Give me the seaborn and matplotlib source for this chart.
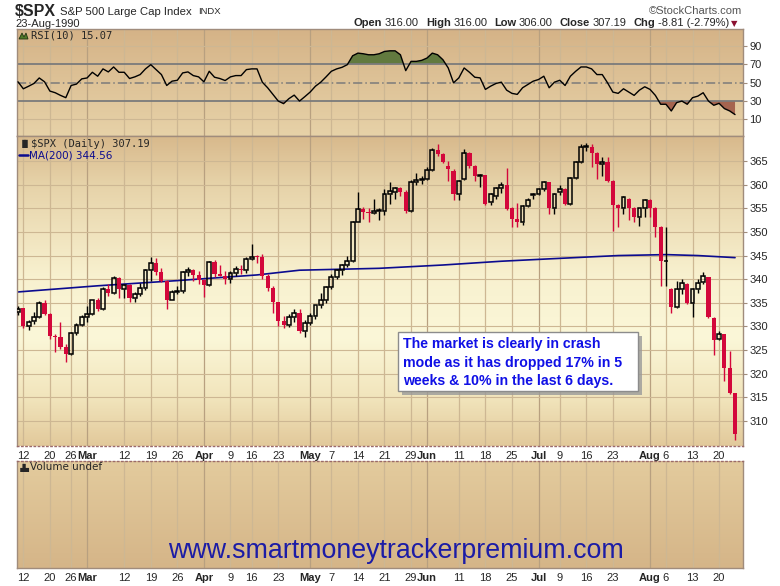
import numpy as np
import pandas as pd
import matplotlib
matplotlib.use("Agg")
import matplotlib.pyplot as plt
from matplotlib.patches import Rectangle, Polygon
from matplotlib.colors import LinearSegmentedColormap
import seaborn as sns

sns.set_style("white")
plt.rcParams['font.family'] = ['Liberation Sans', 'DejaVu Sans']

# one entry per trading day, 9-Feb-1990 .. 23-Aug-1990
opens = [333.0, 333.8, 330.1, 331.1, 332.0, 334.9, 332.7, 328.0, 327.7, 325.7,
         324.2, 328.7, 330.3, 331.9, 332.7, 335.5, 333.7, 337.9, 337.0, 340.3,
         338.0, 338.7, 336.0, 336.9, 338.1, 341.9, 343.5, 341.6, 339.7, 335.7,
         337.2, 337.6, 341.5, 342.0, 340.8, 339.9, 338.7, 343.6, 341.1, 340.7,
         340.1, 341.4, 342.1, 341.9, 344.3, 344.9, 344.7, 340.7, 338.1, 335.1,
         331.1, 330.4, 332.0, 332.9, 329.1, 330.8, 332.3, 334.5, 335.6, 338.4,
         340.5, 342.0, 342.9, 343.8, 352.0, 354.8, 354.3, 354.0, 354.5, 354.4,
         358.0, 358.4, 359.3, 358.4, 354.5, 360.6, 360.9, 361.2, 363.1, 367.3,
         366.5, 364.0, 362.9, 358.0, 361.3, 366.7, 363.9, 361.9, 362.0, 356.4,
         357.7, 359.2, 360.0, 355.0, 352.8, 352.1, 355.5, 357.9, 358.0, 359.0,
         360.5, 355.0, 358.4, 359.0, 356.0, 361.5, 364.9, 367.9, 367.9, 366.8,
         364.4, 364.9, 360.8, 355.7, 355.0, 357.0, 355.0, 353.1, 355.0, 356.8,
         355.0, 351.0, 343.8, 338.0, 334.2, 338.0, 339.0, 335.0, 338.0, 339.3,
         340.4, 331.8, 327.4, 328.3, 321.3, 316.0]
highs = [334.3, 334.0, 331.4, 333.0, 335.3, 335.7, 332.9, 328.3, 330.9, 326.2,
         328.9, 330.8, 332.5, 334.4, 335.6, 336.0, 338.3, 338.9, 340.6, 340.4,
         338.9, 339.0, 337.3, 339.1, 342.1, 344.7, 344.5, 342.3, 339.8, 337.8,
         338.5, 341.7, 342.6, 342.1, 341.8, 340.0, 343.8, 344.1, 342.9, 341.7,
         341.8, 342.8, 343.0, 344.8, 347.4, 345.2, 345.3, 341.2, 338.6, 335.2,
         332.3, 332.7, 333.6, 333.6, 331.3, 332.8, 334.5, 337.0, 338.5, 341.0,
         342.2, 343.3, 344.9, 352.3, 358.4, 355.3, 355.0, 356.9, 355.0, 359.1,
         360.5, 359.5, 359.5, 358.8, 360.9, 362.4, 361.9, 363.8, 367.8, 368.6,
         366.8, 365.0, 363.3, 361.0, 367.5, 367.0, 364.1, 362.3, 362.1, 358.3,
         359.5, 360.5, 363.5, 355.3, 356.2, 355.8, 357.1, 358.3, 359.3, 360.8,
         360.6, 358.3, 359.9, 359.3, 361.6, 365.1, 368.6, 368.9, 368.6, 367.0,
         365.9, 365.9, 361.0, 356.0, 357.5, 357.2, 355.3, 355.1, 357.0, 357.0,
         355.2, 351.2, 351.0, 338.1, 339.6, 340.1, 339.2, 338.1, 340.1, 341.5,
         340.5, 332.0, 329.0, 328.5, 324.7, 316.0]
lows = [332.5, 329.6, 329.3, 330.6, 331.7, 332.4, 327.4, 324.6, 325.3, 322.4,
        323.9, 328.2, 330.0, 331.0, 332.4, 333.2, 333.4, 336.5, 336.8, 336.1,
        336.1, 335.2, 335.2, 336.5, 337.8, 339.7, 340.9, 339.4, 333.6, 335.5,
        336.8, 337.0, 340.6, 339.6, 338.9, 336.3, 338.5, 340.4, 340.6, 338.9,
        339.1, 340.6, 341.1, 341.4, 344.1, 343.4, 340.1, 337.6, 332.8, 330.1,
        329.7, 329.8, 330.9, 328.7, 327.8, 330.2, 331.5, 333.8, 335.0, 338.0,
        340.0, 340.9, 342.5, 343.6, 352.0, 352.7, 352.0, 353.8, 352.5, 353.5,
        356.0, 357.0, 357.6, 354.0, 354.3, 360.0, 360.1, 361.0, 362.9, 366.0,
        364.6, 360.8, 356.8, 356.8, 361.0, 363.5, 360.8, 359.6, 355.8, 355.6,
        357.0, 358.3, 354.6, 351.0, 351.0, 351.5, 355.2, 356.9, 357.8, 358.6,
        353.9, 353.9, 357.8, 355.8, 355.8, 361.2, 364.5, 367.2, 363.7, 361.3,
        361.9, 360.5, 350.2, 351.0, 353.7, 352.5, 352.0, 351.3, 353.1, 353.1,
        349.0, 338.5, 338.5, 332.8, 334.0, 336.9, 334.8, 332.0, 337.1, 339.0,
        331.8, 324.0, 327.2, 318.4, 315.8, 306.0]
closes = [333.6, 330.1, 331.0, 332.0, 334.9, 332.7, 328.0, 327.7, 325.7, 324.2,
          328.7, 330.3, 331.9, 332.7, 335.5, 333.7, 337.9, 337.0, 340.3, 338.0,
          338.7, 336.0, 336.9, 338.1, 341.9, 343.5, 341.6, 339.7, 335.7, 337.2,
          337.6, 341.5, 342.0, 340.8, 339.9, 338.7, 343.6, 341.1, 340.7, 340.1,
          341.4, 342.1, 341.9, 344.3, 344.7, 344.7, 340.7, 338.1, 335.1, 331.1,
          330.4, 332.0, 332.9, 329.1, 330.8, 332.3, 334.5, 335.6, 338.4, 340.5,
          342.0, 342.9, 343.8, 352.0, 354.8, 354.3, 354.0, 354.5, 354.6, 358.0,
          358.6, 359.3, 358.4, 354.5, 360.6, 360.9, 361.2, 363.2, 367.3, 366.5,
          364.9, 363.4, 358.0, 360.8, 366.7, 363.9, 361.9, 362.0, 356.0, 358.0,
          359.2, 359.9, 354.8, 352.8, 352.1, 355.5, 356.8, 358.0, 359.0, 360.5,
          355.0, 358.0, 359.0, 356.0, 361.5, 364.9, 367.9, 368.1, 366.7, 364.4,
          364.9, 360.8, 355.7, 355.0, 357.4, 355.0, 353.1, 355.0, 356.7, 355.0,
          351.0, 343.8, 343.9, 334.2, 338.0, 339.1, 335.0, 338.0, 339.2, 340.6,
          331.9, 327.2, 328.3, 321.3, 316.0, 307.19]

rsi10 = [50.8, 43.2, 46.0, 49.0, 55.0, 50.8, 40.7, 38.9, 36.0, 33.5,
         46.8, 48.3, 54.0, 55.0, 61.2, 56.9, 64.9, 61.6, 67.0, 61.2,
         61.2, 54.4, 56.2, 58.7, 64.9, 69.5, 64.1, 58.7, 46.8, 51.5,
         52.5, 60.5, 61.6, 57.6, 56.2, 50.8, 62.3, 55.8, 54.4, 52.2,
         56.2, 57.6, 57.6, 64.1, 64.9, 64.9, 50.4, 44.3, 37.1, 29.8,
         27.0, 32.4, 36.3, 29.8, 34.6, 39.6, 46.0, 50.4, 56.2, 62.3,
         64.9, 66.6, 69.5, 79.2, 82.1, 81.4, 80.3, 80.3, 81.4, 83.9,
         84.6, 84.6, 80.3, 63.0, 73.1, 73.1, 74.2, 76.7, 82.1, 80.3,
         74.9, 65.9, 49.7, 55.1, 65.9, 61.2, 55.8, 55.1, 42.5, 46.1,
         49.0, 50.4, 41.7, 38.2, 37.1, 44.3, 47.9, 51.5, 53.3, 56.9,
         44.3, 50.4, 52.5, 46.8, 56.9, 62.3, 67.0, 67.0, 64.9, 58.7,
         58.7, 49.7, 39.6, 38.2, 43.2, 39.6, 36.0, 41.7, 45.4, 42.5,
         36.0, 26.3, 26.3, 19.0, 28.1, 29.8, 26.3, 33.5, 35.2, 38.9,
         29.8, 25.2, 27.3, 21.6, 19.0, 15.07]

# 200-day moving average, read at a few days
ma_idx = [0, 15, 30, 45, 53, 68, 80, 91, 100, 113, 122, 128, 135]
ma200 = [337.3, 338.6, 339.7, 340.9, 341.9, 342.3, 343.0, 343.8, 344.3, 345.0, 345.2, 345.0, 344.56]

tick_idx = [1, 6, 10, 13, 20, 25, 30, 35, 40, 44, 49, 55, 59, 64, 69, 74,
            77, 83, 88, 93, 98, 102, 107, 112, 119, 122, 127, 132]
tick_lbl = ['12', '20', '26', 'Mar', '12', '19', '26', 'Apr', '9', '16', '23', 'May',
            '7', '14', '21', '29', 'Jun', '11', '18', '25', 'Jul', '9', '16', '23',
            'Aug', '6', '13', '20']
months = ['Mar', 'Apr', 'May', 'Jun', 'Jul', 'Aug']

df = pd.DataFrame({'o': opens, 'h': highs, 'l': lows, 'c': closes, 'rsi': rsi10})
df['x'] = np.arange(len(df))

W, H = 780, 586
fig = plt.figure(figsize=(W / 100, H / 100), dpi=100)
fig.patch.set_facecolor('white')


def box(l, t, r, b):
    return [l / W, 1 - b / H, (r - l) / W, (b - t) / H]


def fx(px):
    return px / W


def fy(py):
    return 1 - py / H


def paint(a, stops):
    cmap = LinearSegmentedColormap.from_list('bg', stops)
    a.imshow(np.linspace(0, 1, 256).reshape(-1, 1), cmap=cmap, extent=[0, 1, 0, 1],
             transform=a.transAxes, aspect='auto', zorder=0, interpolation='bilinear')


ax_rsi = fig.add_axes(box(17, 29, 743, 136))
ax = fig.add_axes(box(17, 136, 743, 446))
ax_vol = fig.add_axes(box(17, 461, 743, 568))

paint(ax_rsi, [(0, '#d5b387'), (1, '#e7d2a8')])
paint(ax, [(0, '#d8b98c'), (0.15, '#e6d2a8'), (0.45, '#f8f1cf'), (0.65, '#fbf7d8'),
           (0.85, '#f1e4bb'), (1, '#e2c99b')])
paint(ax_vol, [(0, '#e3cb9d'), (1, '#d5b588')])

grid_c = '#cdb793'
month_c = '#b8a080'
for a in (ax_rsi, ax, ax_vol):
    for t, lab in zip(tick_idx, tick_lbl):
        a.axvline(t, color=month_c if lab in months else grid_c, lw=0.9, zorder=1)
    for s in a.spines.values():
        s.set_color('#a08c7c')
        s.set_linewidth(1.0)
    a.set_xlim(-0.19, 136.5)

# ---- RSI panel
for lvl in (10, 90):
    ax_rsi.axhline(lvl, color=grid_c, lw=0.8, zorder=1)
x = df['x'].to_numpy()
r = df['rsi'].to_numpy()
ax_rsi.fill_between(x, r, 70, where=r > 70, interpolate=True, color='#627a3f', zorder=2, lw=0)
ax_rsi.fill_between(x, r, 30, where=r < 30, interpolate=True, color='#a5644f', zorder=2, lw=0)
ax_rsi.axhline(70, color='#7b7b7b', lw=1.3, zorder=2)
ax_rsi.axhline(30, color='#7b7b7b', lw=1.3, zorder=2)
ax_rsi.axhline(50, color='#7b7b7b', lw=1.1, ls=(0, (6, 2, 1, 2)), zorder=2)
sns.lineplot(data=df, x='x', y='rsi', ax=ax_rsi, color='black', lw=1.0, zorder=3)
ax_rsi.set_ylim(-8.3, 108.4)
ax_rsi.set_xlim(-0.19, 136.5)
ax_rsi.yaxis.tick_right()
ax_rsi.set_yticks([10, 30, 50, 70, 90])
ax_rsi.tick_params(axis='y', direction='out', length=3, color='#a08c7c', labelsize=8, pad=1.5)
ax_rsi.set_xticks([])
ax_rsi.set_xlabel('')
ax_rsi.set_ylabel('')

# ---- price panel
for p in range(310, 370, 5):
    ax.axhline(p, color=grid_c, lw=0.8, zorder=1)

up = df[df['c'] >= df['o']]
dn = df[df['c'] < df['o']]
red = '#d3073b'
ax.vlines(up['x'], up[['o', 'c']].max(axis=1), up['h'], color='black', lw=1.0, zorder=3)
ax.vlines(up['x'], up['l'], up[['o', 'c']].min(axis=1), color='black', lw=1.0, zorder=3)
ax.bar(up['x'], np.maximum((up['c'] - up['o']).abs(), 0.12), bottom=up[['o', 'c']].min(axis=1),
       width=0.72, facecolor='none', edgecolor='black', lw=1.1, zorder=4)
ax.vlines(dn['x'], dn['l'], dn['h'], color=red, lw=1.0, zorder=3)
ax.bar(dn['x'], np.maximum((dn['c'] - dn['o']).abs(), 0.12), bottom=dn[['o', 'c']].min(axis=1),
       width=0.78, color=red, lw=0, zorder=4)

sns.lineplot(x=ma_idx, y=ma200, ax=ax, color='#0b0b8f', lw=1.2, zorder=2)

ax.set_ylim(304.7, 370.3)
ax.set_xlim(-0.19, 136.5)
ax.yaxis.tick_right()
ax.set_yticks(range(310, 370, 5))
ax.tick_params(axis='y', direction='out', length=3, color='#a08c7c', labelsize=8, pad=1.5)
ax.set_xticks(tick_idx)
ax.set_xticklabels(tick_lbl)
ax.tick_params(axis='x', length=0, labelsize=8, pad=3.5)
ax.spines['bottom'].set_linestyle((0, (1, 2)))
ax.spines['bottom'].set_color('#9a6a6a')
ax.set_xlabel('')
ax.set_ylabel('')

# ---- volume panel (no data)
ax_vol.set_ylim(0, 1)
ax_vol.set_yticks([])
ax_vol.set_xticks(tick_idx)
ax_vol.set_xticklabels(tick_lbl)
ax_vol.tick_params(axis='x', length=0, labelsize=8, pad=3.5)
ax_vol.spines['top'].set_linestyle((0, (1, 2)))
ax_vol.spines['top'].set_color('#9a6a6a')

for a in (ax, ax_vol):
    for lab in a.get_xticklabels():
        if lab.get_text() in months:
            lab.set_fontweight('bold')

renderer = fig.canvas.get_renderer()


def run_text(px, py, parts):
    # lay out pieces of text one after another, starting at pixel px
    for s, kw, after in parts:
        t = fig.text(fx(px), fy(py), s, va='center', **kw)
        px += t.get_window_extent(renderer).width + after
    return px


# ---- header
run_text(15, 12, [(r'\$SPX', dict(fontsize=11.5, fontweight='bold'), 4),
                  ('S&P 500 Large Cap Index', dict(fontsize=8.2), 6),
                  ('INDX', dict(fontsize=6.8), 0)])
fig.text(fx(15), fy(24), '23-Aug-1990', fontsize=8, va='center')
fig.text(fx(742), fy(11), '\u00a9StockCharts.com', fontsize=8, color='#555555',
         va='center', ha='right')

bold8 = dict(fontsize=8, fontweight='bold')
norm8 = dict(fontsize=8)
end = run_text(354, 23.5, [('Open', bold8, 2.5), ('316.00', norm8, 7),
                           ('High', bold8, 2.5), ('316.00', norm8, 7),
                           ('Low', bold8, 2.5), ('306.00', norm8, 7),
                           ('Close', bold8, 2.5), ('307.19', norm8, 7),
                           ('Chg', bold8, 2.5), ('-8.81 (-2.79%)', norm8, 2)])
fig.text(fx(end), fy(24), '\u25bc', fontsize=6, color='#8b1030', va='center',
         family='DejaVu Sans')

# ---- panel legends
fig.add_artist(Polygon([[fx(19), fy(39)], [fx(22), fy(33)], [fx(24), fy(37)],
                        [fx(26), fy(33)], [fx(28), fy(39)]], closed=True,
                       transform=fig.transFigure, facecolor='#4f7a2a', edgecolor='#223311', lw=0.6))
fig.text(fx(31), fy(35.5), 'RSI(10) 15.07', fontsize=7.5, va='center', family='DejaVu Sans Mono')

fig.text(fx(19), fy(144), '\u2590\u258c', fontsize=6, va='center', family='DejaVu Sans')
fig.text(fx(31), fy(144), r'\$SPX (Daily) 307.19', fontsize=7.5, va='center',
         family='DejaVu Sans Mono')
fig.add_artist(plt.Line2D([fx(19), fx(28)], [fy(155), fy(155)], color='#0b0b8f', lw=1.8,
                          transform=fig.transFigure))
fig.text(fx(29.5), fy(155), 'MA(200) 344.56', fontsize=7.5, va='center', color='#0b0b8f',
         family='DejaVu Sans')

fig.text(fx(17), fy(467), '\u2597\u2599', fontsize=6, va='center', family='DejaVu Sans')
fig.text(fx(30), fy(467), 'Volume undef', fontsize=7.5, va='center', family='DejaVu Sans')

# ---- comment box
fig.add_artist(Rectangle((fx(402), fy(395)), 240 / W, 59 / H, transform=fig.transFigure,
                         facecolor='#9a9a9a', edgecolor='none', alpha=0.8))
fig.add_artist(Rectangle((fx(398), fy(391)), 240 / W, 59 / H, transform=fig.transFigure,
                         facecolor='white', edgecolor='#8c8c8c', lw=1))
note = ['The market is clearly in crash',
        'mode as it has dropped 17% in 5',
        'weeks & 10% in the last 6 days.']
for k, line in enumerate(note):
    fig.text(fx(403), fy(344 + 18.5 * k), line, fontsize=10.2, fontweight='bold',
             color='#1010e6', va='center')

fig.text(fx(396), fy(551), 'www.smartmoneytrackerpremium.com', fontsize=19.3,
         color='#1c1ca6', ha='center', va='center')

fig.savefig('out.png', dpi=100)
